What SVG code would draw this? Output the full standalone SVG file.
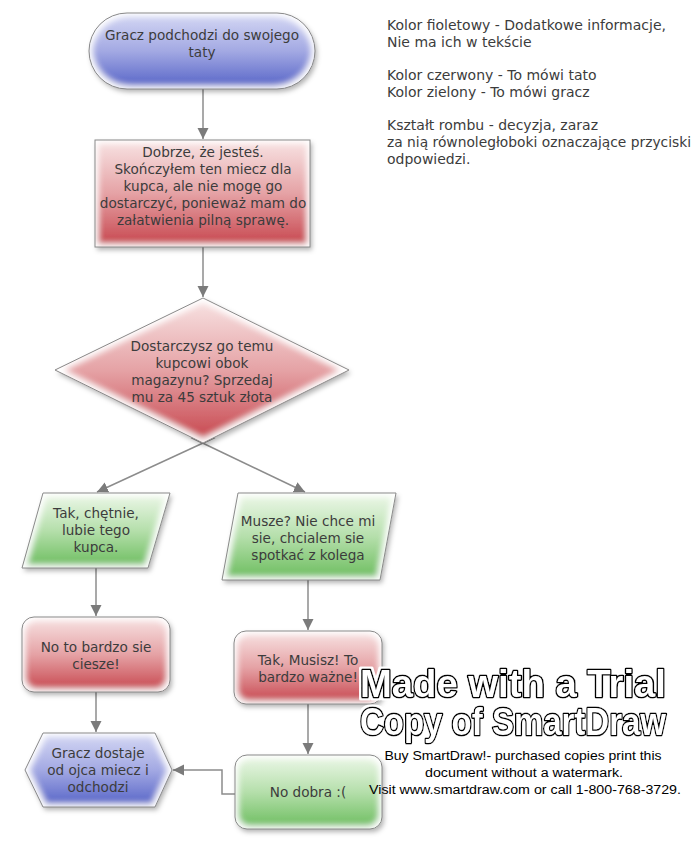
<svg xmlns="http://www.w3.org/2000/svg" width="695" height="842" viewBox="0 0 695 842">
<defs>
<linearGradient id="gBlue" x1="0" y1="0" x2="0" y2="1">
<stop offset="0" stop-color="#d6d9f4"/><stop offset="0.5" stop-color="#a3a9e3"/><stop offset="1" stop-color="#5361c6"/>
</linearGradient>
<linearGradient id="gRed" x1="0" y1="0" x2="0" y2="1">
<stop offset="0" stop-color="#f8e4e4"/><stop offset="0.5" stop-color="#e5a2a5"/><stop offset="1" stop-color="#c6434b"/>
</linearGradient>
<linearGradient id="gGreen" x1="0" y1="0" x2="0" y2="1">
<stop offset="0" stop-color="#eef8ea"/><stop offset="0.5" stop-color="#b5dfab"/><stop offset="1" stop-color="#6abc5c"/>
</linearGradient>
<filter id="fx" x="-15%" y="-15%" width="135%" height="140%">
<feGaussianBlur in="SourceAlpha" stdDeviation="2.5" result="b"/>
<feOffset in="b" dx="2" dy="3" result="ob"/>
<feFlood flood-color="#000" flood-opacity="0.3"/>
<feComposite in2="ob" operator="in" result="shadow"/>
<feMorphology in="SourceAlpha" operator="erode" radius="3" result="er"/>
<feGaussianBlur in="er" stdDeviation="3" result="erb"/>
<feFlood flood-color="#fff"/>
<feComposite in2="erb" operator="out" result="gf"/>
<feComposite in="gf" in2="SourceAlpha" operator="in" result="glow"/>
<feMerge><feMergeNode in="shadow"/><feMergeNode in="SourceGraphic"/><feMergeNode in="glow"/></feMerge>
</filter>
<filter id="halo" x="-5%" y="-20%" width="110%" height="140%">
<feMorphology in="SourceAlpha" operator="dilate" radius="2" result="d"/>
<feFlood flood-color="#fff"/>
<feComposite in2="d" operator="in" result="h"/>
<feMerge><feMergeNode in="h"/><feMergeNode in="SourceGraphic"/></feMerge>
</filter>
<marker id="ah" markerUnits="userSpaceOnUse" markerWidth="12" markerHeight="12" refX="11" refY="6" orient="auto" viewBox="0 0 12 12">
<path d="M0,0.5 L11,6 L0,11.5 z" fill="#7b7b7b"/>
</marker>
</defs>
<style>
.blue{fill:url(#gBlue);filter:url(#fx)}
.red{fill:url(#gRed);filter:url(#fx)}
.green{fill:url(#gGreen);filter:url(#fx)}
.ol{fill:none;stroke:#8a8a8a;stroke-width:1}
.t{font-family:"DejaVu Sans",Verdana,sans-serif;font-size:13.6px;fill:#3c3c3c;text-anchor:middle}
.lg{font-family:"DejaVu Sans",Verdana,sans-serif;font-size:14px;fill:#3c3c3c}
.cn{fill:none;stroke:#8c8c8c;stroke-width:1.5;marker-end:url(#ah)}
.wm{font-family:"Liberation Sans",Arial,sans-serif;font-weight:bold;font-size:38px;fill:#fff;stroke:#000;stroke-width:3;paint-order:stroke;stroke-linejoin:round}
.ws{font-family:"Liberation Sans",Arial,sans-serif;font-size:12px;fill:#000;text-anchor:middle}
</style>

<g id="connectors">
<line class="cn" x1="203" y1="89" x2="203" y2="139"/>
<line class="cn" x1="203" y1="247" x2="203" y2="297"/>
<line class="cn" x1="215" y1="437.5" x2="97" y2="492"/>
<line class="cn" x1="191" y1="437.5" x2="305" y2="492"/>
<line class="cn" x1="96" y1="568" x2="96" y2="616"/>
<line class="cn" x1="308" y1="580" x2="308" y2="630"/>
<line class="cn" x1="96" y1="692" x2="96" y2="732"/>
<line class="cn" x1="308" y1="704" x2="308" y2="754"/>
<polyline class="cn" points="235,794 222,794 222,770 173,770"/>
</g>

<g id="n1">
<rect class="blue" x="89" y="13" width="226" height="76" rx="38"/>
<rect class="ol" x="89" y="13" width="226" height="76" rx="38"/>
<text class="t" x="202" y="40">Gracz podchodzi do swojego</text>
<text class="t" x="202" y="57">taty</text>
</g>

<g id="n2">
<rect class="red" x="95" y="140" width="215" height="107"/>
<rect class="ol" x="95" y="140" width="215" height="107"/>
<text class="t" x="203" y="157">Dobrze, że jesteś.</text>
<text class="t" x="203" y="174">Skończyłem ten miecz dla</text>
<text class="t" x="203" y="191">kupca, ale nie mogę go</text>
<text class="t" x="203" y="208">dostarczyć, ponieważ mam do</text>
<text class="t" x="203" y="225">załatwienia pilną sprawę.</text>
</g>

<g id="n3">
<polygon class="red" points="203,298 349,370 203,443 55,370"/>
<polygon class="ol" points="203,298 349,370 203,443 55,370"/>
<text class="t" x="202" y="351">Dostarczysz go temu</text>
<text class="t" x="202" y="368">kupcowi obok</text>
<text class="t" x="202" y="385">magazynu? Sprzedaj</text>
<text class="t" x="202" y="402">mu za 45 sztuk złota</text>
</g>

<g id="n4">
<polygon class="green" points="43,493 170,493 148,568 22,568"/>
<polygon class="ol" points="43,493 170,493 148,568 22,568"/>
<text class="t" x="96" y="518">Tak, chętnie,</text>
<text class="t" x="96" y="535">lubie tego</text>
<text class="t" x="96" y="552">kupca.</text>
</g>

<g id="n5">
<polygon class="green" points="238,493 396,493 380,580 222,580"/>
<polygon class="ol" points="238,493 396,493 380,580 222,580"/>
<text class="t" x="308" y="526">Musze? Nie chce mi</text>
<text class="t" x="308" y="543">sie, chcialem sie</text>
<text class="t" x="308" y="560">spotkać z kolega</text>
</g>

<g id="n6">
<rect class="red" x="22" y="617" width="148" height="75" rx="12"/>
<rect class="ol" x="22" y="617" width="148" height="75" rx="12"/>
<text class="t" x="96" y="652">No to bardzo sie</text>
<text class="t" x="96" y="669">ciesze!</text>
</g>

<g id="n7">
<rect class="red" x="234" y="631" width="148" height="73" rx="12"/>
<rect class="ol" x="234" y="631" width="148" height="73" rx="12"/>
<text class="t" x="308" y="665">Tak, Musisz! To</text>
<text class="t" x="308" y="682">bardzo ważne!</text>
</g>

<g id="n8">
<rect class="green" x="235" y="755" width="147" height="74" rx="12"/>
<rect class="ol" x="235" y="755" width="147" height="74" rx="12"/>
<text class="t" x="308" y="797">No dobra :(</text>
</g>

<g id="n9">
<polygon class="blue" points="25,770 43,733 155,733 172,770 155,807 43,807"/>
<polygon class="ol" points="25,770 43,733 155,733 172,770 155,807 43,807"/>
<text class="t" x="98" y="758">Gracz dostaje</text>
<text class="t" x="98" y="775">od ojca miecz i</text>
<text class="t" x="98" y="792">odchodzi</text>
</g>

<g id="legend">
<text class="lg" x="387" y="30">Kolor fioletowy - Dodatkowe informacje,</text>
<text class="lg" x="387" y="47">Nie ma ich w tekście</text>
<text class="lg" x="387" y="80">Kolor czerwony - To mówi tato</text>
<text class="lg" x="387" y="97">Kolor zielony - To mówi gracz</text>
<text class="lg" x="387" y="130">Kształt rombu - decyzja, zaraz</text>
<text class="lg" x="387" y="147" textLength="304" lengthAdjust="spacingAndGlyphs">za nią równoległoboki oznaczające przyciski</text>
<text class="lg" x="387" y="164">odpowiedzi.</text>
</g>

<g id="watermark">
<g filter="url(#halo)">
<text class="wm" x="360" y="697" textLength="306" lengthAdjust="spacingAndGlyphs">Made with a Trial</text>
<text class="wm" x="360" y="735" textLength="306" lengthAdjust="spacingAndGlyphs">Copy of SmartDraw</text>
</g>
<text class="ws" x="523" y="760" textLength="277" lengthAdjust="spacingAndGlyphs">Buy SmartDraw!- purchased copies print this</text>
<text class="ws" x="524" y="777" textLength="198" lengthAdjust="spacingAndGlyphs">document without a watermark.</text>
<text class="ws" x="525" y="794" textLength="312" lengthAdjust="spacingAndGlyphs">Visit www.smartdraw.com or call 1-800-768-3729.</text>
</g>
</svg>
